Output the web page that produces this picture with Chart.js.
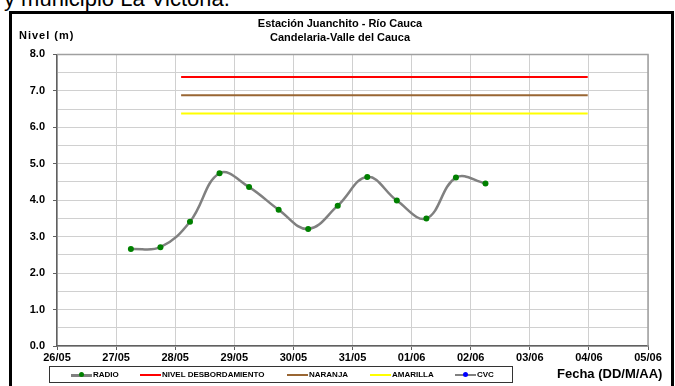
<!DOCTYPE html>
<html>
<head>
<meta charset="utf-8">
<title>Estación Juanchito - Río Cauca</title>
<script src="https://cdn.jsdelivr.net/npm/chart.js@4.4.1/dist/chart.umd.min.js"></script>
<style>
	body { margin:0; background:#fff; font-family:"Liberation Sans", Arial, sans-serif; }
	#wrap { position:relative; width:675px; height:386px; overflow:hidden; background:#fff; }
	#caption { position:absolute; left:4px; top:-12px; font-size:22px; line-height:22px; color:#000; white-space:nowrap; }
	#frame { position:absolute; left:9px; top:11px; width:665px; height:400px; box-sizing:border-box; border:3px solid #000; }
	#chart { position:absolute; left:0; top:0; }
	#ylabel { position:absolute; left:19px; top:29px; font-size:11px; font-weight:bold; letter-spacing:1px; line-height:13px; }
	#xlabel { position:absolute; left:557px; top:366px; font-size:13px; font-weight:bold; line-height:16px; white-space:nowrap; }
	#legend { position:absolute; left:49px; top:366px; width:464px; height:17px; box-sizing:border-box; border:1px solid #333; background:#fff; }
	.item { position:absolute; top:0; height:15px; font-size:8px; font-weight:bold; line-height:15px; white-space:nowrap; }
	.swatch { position:absolute; top:7px; width:21px; height:2px; }
	.dot { position:absolute; top:-2px; left:8px; width:5px; height:5px; border-radius:50%; }
	.item span.txt { position:absolute; left:22px; top:0; }
</style>
</head>
<body>
<div id="wrap">
	<div id="frame"></div>
	<div id="caption">y municipio La Victoria.</div>
	<canvas id="chart" width="675" height="386"></canvas>
	<div id="ylabel">Nivel (m)</div>
	<div id="legend"></div>
	<div id="xlabel">Fecha (DD/M/AA)</div>
</div>

<script>
/****************************  Data  *********************************/
var titleLines = ['Estación Juanchito - Río Cauca', 'Candelaria-Valle del Cauca'];

// x axis: days counted from 26/05
var dateLabels = ['26/05','27/05','28/05','29/05','30/05','31/05','01/06','02/06','03/06','04/06','05/06'];

// radio readings (06:00 and 18:00)
var radioDays   = [1.25, 1.75, 2.25, 2.75, 3.25, 3.75, 4.25, 4.75, 5.25, 5.75, 6.25, 6.75, 7.25];
var radioLevels = [2.66, 2.71, 3.41, 4.74, 4.36, 3.74, 3.21, 3.85, 4.64, 3.99, 3.50, 4.62, 4.46];

// alert thresholds
var thresholdDays = [2.1, 8.98];
var nivelDesbordamiento = 7.38;
var nivelNaranja = 6.88;
var nivelAmarilla = 6.38;

var cvcDays = [];
var cvcLevels = [];

/****************************  Helpers  ******************************/
function points(xs, ys) {
	var out = [];
	for (var i = 0; i < xs.length; i++) out.push({ x: xs[i], y: ys[i] });
	return out;
}

function flatLine(level) {
	return thresholdDays.map(function(d) { return { x: d, y: level }; });
}

var series = [
	{ label:'RADIO', color:'#808080', dot:'#008000', data:points(radioDays, radioLevels), width:2.5, left:21 },
	{ label:'NIVEL DESBORDAMIENTO', color:'#ff0000', data:flatLine(nivelDesbordamiento), width:2, left:90 },
	{ label:'NARANJA', color:'#996633', data:flatLine(nivelNaranja), width:2, left:237 },
	{ label:'AMARILLA', color:'#ffff00', data:flatLine(nivelAmarilla), width:2, left:320 },
	{ label:'CVC', color:'#808080', dot:'#0000ff', data:points(cvcDays, cvcLevels), width:1, left:405 }
];

/****************************  Legend  *******************************/
var legend = document.getElementById('legend');
series.forEach(function(s) {
	var item = document.createElement('div');
	item.className = 'item';
	item.style.left = s.left + 'px';
	var sw = '<div class="swatch" style="background:' + s.color + ';height:' + Math.max(s.width, 1.5) + 'px">';
	if (s.dot) sw += '<div class="dot" style="background:' + s.dot + '"></div>';
	sw += '</div>';
	item.innerHTML = sw + '<span class="txt">' + s.label + '</span>';
	legend.appendChild(item);
});

/****************************  Chart.js  *****************************/
var plotFrame = {
	id: 'plotFrame',
	beforeDatasetsDraw: function(chart) {
		var a = chart.chartArea, ctx = chart.ctx;
		ctx.save();
		ctx.strokeStyle = '#a0a0a0';
		ctx.lineWidth = 1.5;
		ctx.beginPath();
		ctx.moveTo(a.left, a.top);
		ctx.lineTo(a.right, a.top);
		ctx.lineTo(a.right, a.bottom);
		ctx.stroke();
		ctx.restore();
	}
};

var tickFont = { family:'"Liberation Sans", Arial, sans-serif', size:11, weight:'bold' };

var ctx = document.getElementById('chart').getContext('2d');
var myChart = new Chart(ctx, {
	type: 'scatter',
	data: {
		datasets: series.map(function(s) {
			return {
				label: s.label,
				data: s.data,
				showLine: true,
				borderColor: s.color,
				borderWidth: s.width,
				tension: s.dot ? 0.4 : 0,
				pointRadius: s.dot ? 3 : 0,
				pointBorderWidth: 0,
				pointBackgroundColor: s.dot || s.color
			};
		})
	},
	options: {
		responsive: false,
		animation: false,
		layout: { padding: { left:12, right:7, top:17, bottom:0 } },
		plugins: {
			legend: { display:false },
			tooltip: { enabled:false },
			title: {
				display: true,
				text: titleLines,
				color: '#000',
				font: { family:'"Liberation Sans", Arial, sans-serif', size:11, weight:'bold', lineHeight:1.27 },
				padding: { top:0, bottom:9.5 }
			}
		},
		scales: {
			x: {
				type: 'linear',
				min: 0,
				max: dateLabels.length - 1,
				afterFit: function(scale) { scale.height = 40; },
				ticks: {
					stepSize: 1,
					autoSkip: false,
					maxRotation: 0,
					color: '#000',
					font: tickFont,
					padding: 1,
					callback: function(v) { return dateLabels[v]; }
				},
				grid: { color:'#d0d0d0', lineWidth:1, tickLength:4, tickColor:'#606060' },
				border: { color:'#606060', width:1.5 }
			},
			y: {
				min: 0,
				max: 8,
				afterFit: function(scale) { scale.width = 45; },
				ticks: {
					stepSize: 0.5,
					autoSkip: false,
					color: '#000',
					font: tickFont,
					padding: 8,
					callback: function(v) { return Number.isInteger(v) ? v.toFixed(1) : ''; }
				},
				grid: {
					color: '#d0d0d0',
					lineWidth: 1,
					tickLength: 4,
					tickColor: function(c) { return Number.isInteger(c.tick.value) ? '#606060' : 'rgba(0,0,0,0)'; }
				},
				border: { color:'#606060', width:1.5 }
			},
			// empty right axis: only reserves the blank strip right of the plot
			yRight: {
				position: 'right',
				min: 0,
				max: 8,
				afterFit: function(scale) { scale.width = 20; },
				ticks: { display:false },
				grid: { display:false },
				border: { display:false }
			}
		}
	},
	plugins: [plotFrame]
});
</script>
</body>
</html>
